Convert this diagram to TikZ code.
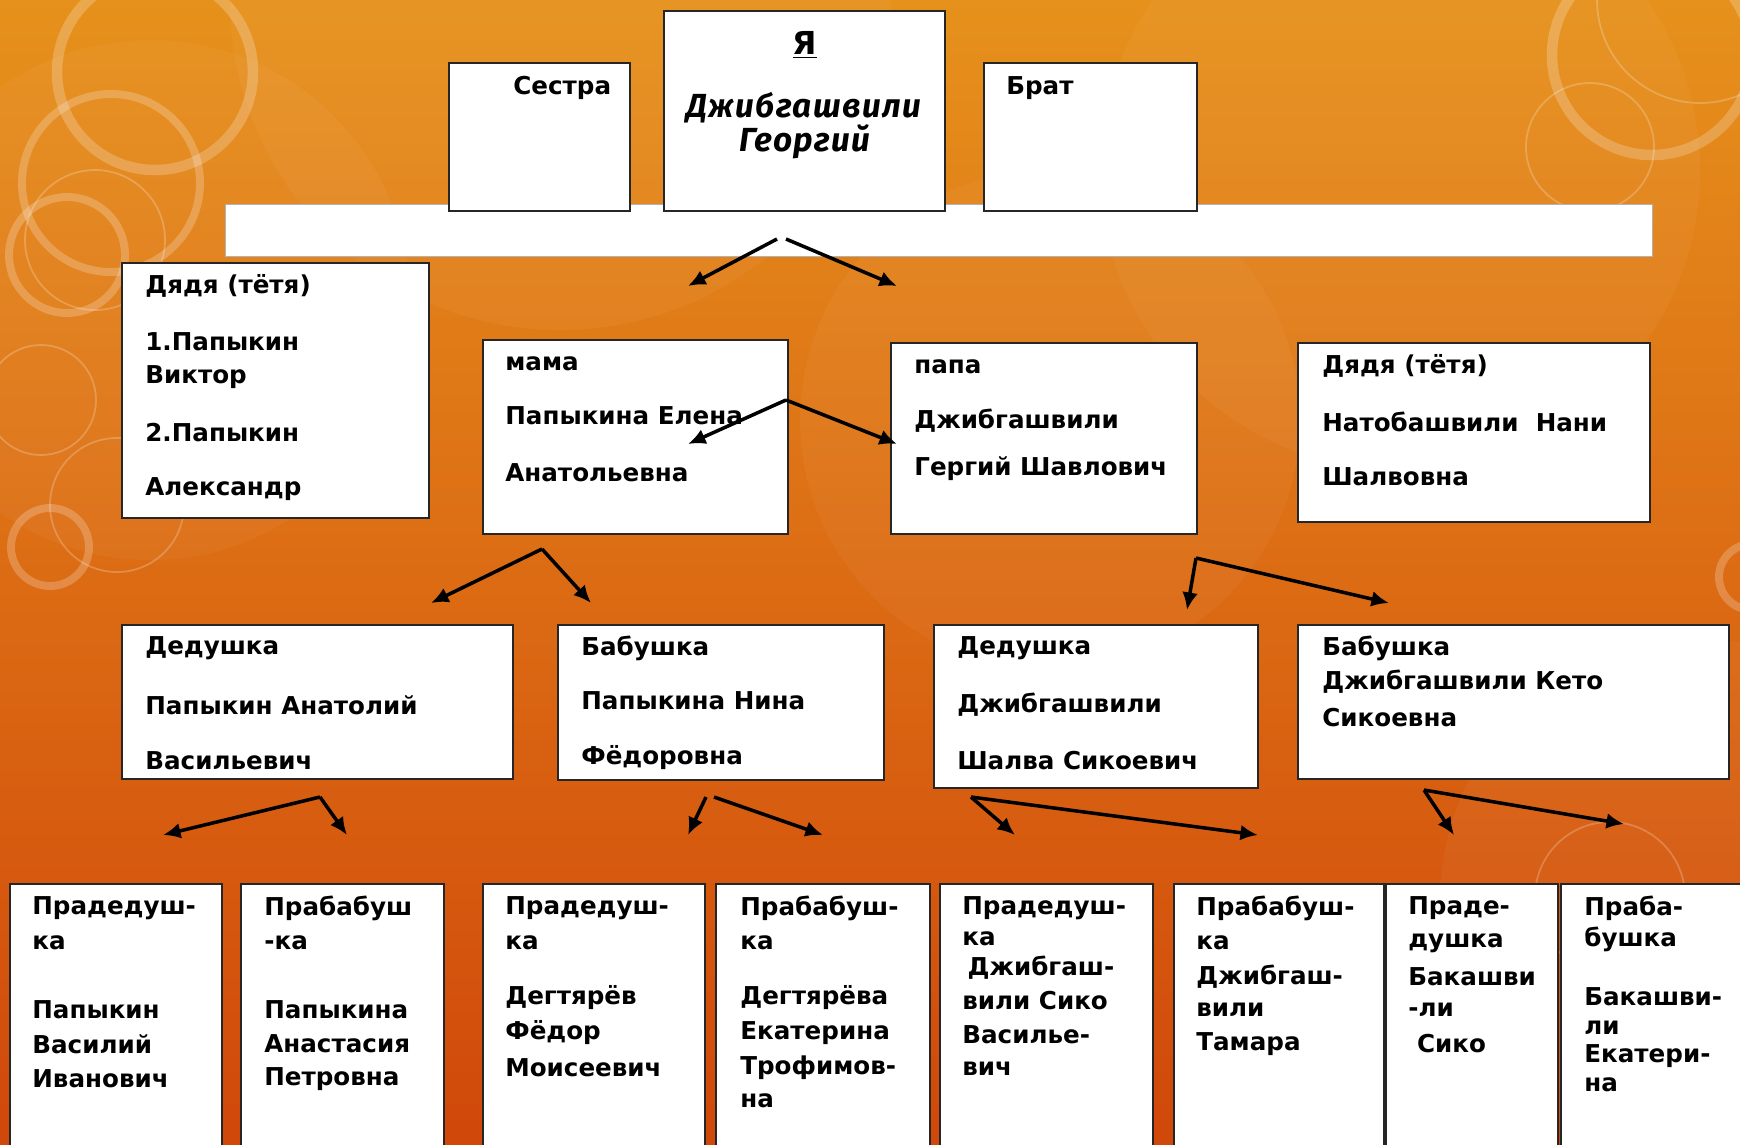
\documentclass[tikz,border=0pt]{standalone}
\usepackage{fontspec}
\setmainfont{DejaVu Sans}
\newfontfamily\curfont{Fira Sans}[LetterSpace=4]
\usetikzlibrary{arrows.meta}
\definecolor{bgtop}{RGB}{230,145,28}
\definecolor{bgmid}{RGB}{220,108,20}
\definecolor{bgbot}{RGB}{208,72,10}
\tikzset{
  box/.style={draw=black!85, line width=1.1pt, fill=white, inner sep=0pt},
  txt/.style={anchor=west, inner sep=0pt, font=\fontsize{14}{16}\selectfont\bfseries},
  arr/.style={line width=2pt, -{Latex[length=10pt,width=9pt]}},
  ring/.style={draw=white, draw opacity=0.22},
  disk/.style={fill=white, fill opacity=0.04},
}
\newcommand\bx[5]{\node[box, minimum width={(#4-#2)*0.02cm}, minimum height={(#5-#3)*0.02cm}] (#1) at ({(#2+#4)/2},{(#3+#5)/2}) {};}
\newcommand\txtlines[3]{\foreach \yy/\ttext [count=\k] in {#3} {\node[txt] (#1-\k) at (#2,\yy) {\ttext};}}
\begin{document}
\begin{tikzpicture}[x=0.02cm,y=-0.02cm]
\useasboundingbox (0,0) rectangle (1740,1144);
\clip (0,0) rectangle (1740,1144);
% background
\shade[top color=bgtop, bottom color=bgbot, middle color=bgmid] (0,0) rectangle (1740,1144);
\fill[disk] (560,0) circle [radius=330];
\fill[disk] (1400,170) circle [radius=300];
\fill[disk] (1050,420) circle [radius=250];
\fill[disk] (150,300) circle [radius=260];
\fill[disk] (1700,900) circle [radius=260];
\draw[ring, line width=6pt] (155,72) circle [radius=98];
\draw[ring, line width=4.5pt] (111,183) circle [radius=89];
\draw[ring, line width=4.5pt] (67,255) circle [radius=58];
\draw[ring, line width=1pt] (95,240) circle [radius=70];
\draw[ring, line width=4.5pt] (50,547) circle [radius=39];
\draw[ring, line width=1pt] (41,400) circle [radius=55];
\draw[ring, line width=1pt] (117,505) circle [radius=67];
\draw[ring, line width=6pt] (1652,55) circle [radius=100];
\draw[ring, line width=1pt] (1590,147) circle [radius=64];
\draw[ring, line width=1pt] (1700,0) circle [radius=103];
\draw[ring, line width=4.5pt] (1752,577) circle [radius=33];
\draw[ring, line width=1pt] (1610,897) circle [radius=75];
% bar
\node[fill=white, draw=black!30, line width=0.4pt, inner sep=0pt, minimum width={1427*0.02cm}, minimum height={52*0.02cm}] (bar) at (938.5,230) {};
% boxes
\bx{sis}{449}{63}{630}{211}
\bx{me}{664}{11}{945}{211}
\bx{bro}{984}{63}{1197}{211}
\bx{uncL}{122}{263}{429}{518}
\bx{mama}{483}{340}{788}{534}
\bx{papa}{891}{343}{1197}{534}
\bx{uncR}{1298}{343}{1650}{522}
\bx{gfA}{122}{625}{513}{779}
\bx{gmA}{558}{625}{884}{780}
\bx{gfB}{934}{625}{1258}{788}
\bx{gmB}{1298}{625}{1729}{779}
\bx{pA}{10}{884}{222}{1160}
\bx{pB}{241}{884}{444}{1160}
\bx{pC}{483}{884}{705}{1160}
\bx{pD}{716}{884}{930}{1160}
\bx{pE}{940}{884}{1153}{1160}
\bx{pF}{1174}{884}{1384}{1160}
\bx{pG}{1386}{884}{1558}{1160}
\bx{pH}{1561}{884}{1750}{1160}
% texts
\node[txt] (tsis) at (513,88) {Сестра};
\node[txt] (tbro) at (1006,88) {Брат};
\node[inner sep=0pt, font=\fontsize{18}{20}\selectfont\bfseries] (tme) at (805,45) {\underline{Я}};
\node[inner sep=0pt, font=\curfont\fontsize{19}{22}\selectfont\bfseries\itshape] (tme2) at (804,108) {Джибгашвили};
\node[inner sep=0pt, font=\curfont\fontsize{19}{22}\selectfont\bfseries\itshape] (tme3) at (805,142) {Георгий};
\txtlines{tuL}{145}{286/Дядя (тётя), 342/1.Папыкин, 377/Виктор, 433/2.Папыкин, 489/Александр}
\txtlines{tma}{505}{364/мама, 416/Папыкина Елена, 473/Анатольевна}
\txtlines{tpa}{914}{367/папа, 421/Джибгашвили, 469/Гергий Шавлович}
\txtlines{tuR}{1322}{366/Дядя (тётя), 422/Натобашвили~ Нани, 477/Шалвовна}
\txtlines{tgfA}{145}{648/Дедушка, 705/Папыкин Анатолий, 761/Васильевич}
\txtlines{tgmA}{581}{648/Бабушка, 701/Папыкина Нина, 758/Фёдоровна}
\txtlines{tgfB}{957}{648/Дедушка, 705/Джибгашвили, 761/Шалва Сикоевич}
\txtlines{tgmB}{1322}{648/Бабушка, 682/Джибгашвили Кето, 718/Сикоевна}
\txtlines{tpA}{32}{908/Прадедуш-, 943/ка, 1010/Папыкин, 1044/Василий, 1079/Иванович}
\txtlines{tpB}{264}{908/Прабабуш, 943/-ка, 1010/Папыкина, 1044/Анастасия, 1079/Петровна}
\txtlines{tpC}{505}{908/Прадедуш-, 943/ка, 998/Дегтярёв, 1033/Фёдор, 1068/Моисеевич}
\txtlines{tpD}{740}{908/Прабабуш-, 943/ка, 998/Дегтярёва, 1033/Екатерина, 1068/Трофимов-, 1101/на}
\txtlines{tpE}{962}{908/Прадедуш-, 939/ка, 968/\hspace{3pt}Джибгаш-, 1001/вили Сико, 1035/Василье-, 1069/вич}
\txtlines{tpF}{1196}{908/Прабабуш-, 943/ка, 977/Джибгаш-, 1010/вили, 1044/Тамара}
\txtlines{tpG}{1408}{908/Праде-, 943/душка, 977/Бакашви, 1010/-ли, 1044/\hspace{5pt}Сико}
\txtlines{tpH}{1584}{908/Праба-, 939/бушка, 997/Бакашви-, 1028/ли, 1056/Екатери-, 1085/на}
% arrow coordinates
\coordinate (a1s) at (777,239); \coordinate (a1e) at (688,286);
\coordinate (a2s) at (786,239); \coordinate (a2e) at (897,286);
\coordinate (a3s) at (786,400); \coordinate (a3e) at (688,444);
\coordinate (a4e) at (897,444);
\coordinate (a5s) at (542,549); \coordinate (a5e) at (431,603);
\coordinate (a6e) at (591,603);
\coordinate (a7s) at (1196,558); \coordinate (a7e) at (1187,610);
\coordinate (a8e) at (1389,603);
\coordinate (a9s) at (320,797); \coordinate (a9e) at (163,835);
\coordinate (a10e) at (347,835);
\coordinate (a11s) at (706,797); \coordinate (a11e) at (688,835);
\coordinate (a12s) at (714,797); \coordinate (a12e) at (823,835);
\coordinate (a13s) at (971,797); \coordinate (a13e) at (1015,835);
\coordinate (a14e) at (1258,835);
\coordinate (a15s) at (1424,790); \coordinate (a15e) at (1454,835);
\coordinate (a16e) at (1624,824);
% arrows
\draw[arr] (a1s) -- (a1e);
\draw[arr] (a2s) -- (a2e);
\draw[arr] (a3s) -- (a3e);
\draw[arr] (a3s) -- (a4e);
\draw[arr] (a5s) -- (a5e);
\draw[arr] (a5s) -- (a6e);
\draw[arr] (a7s) -- (a7e);
\draw[arr] (a7s) -- (a8e);
\draw[arr] (a9s) -- (a9e);
\draw[arr] (a9s) -- (a10e);
\draw[arr] (a11s) -- (a11e);
\draw[arr] (a12s) -- (a12e);
\draw[arr] (a13s) -- (a13e);
\draw[arr] (a13s) -- (a14e);
\draw[arr] (a15s) -- (a15e);
\draw[arr] (a15s) -- (a16e);
\end{tikzpicture}
\end{document}
